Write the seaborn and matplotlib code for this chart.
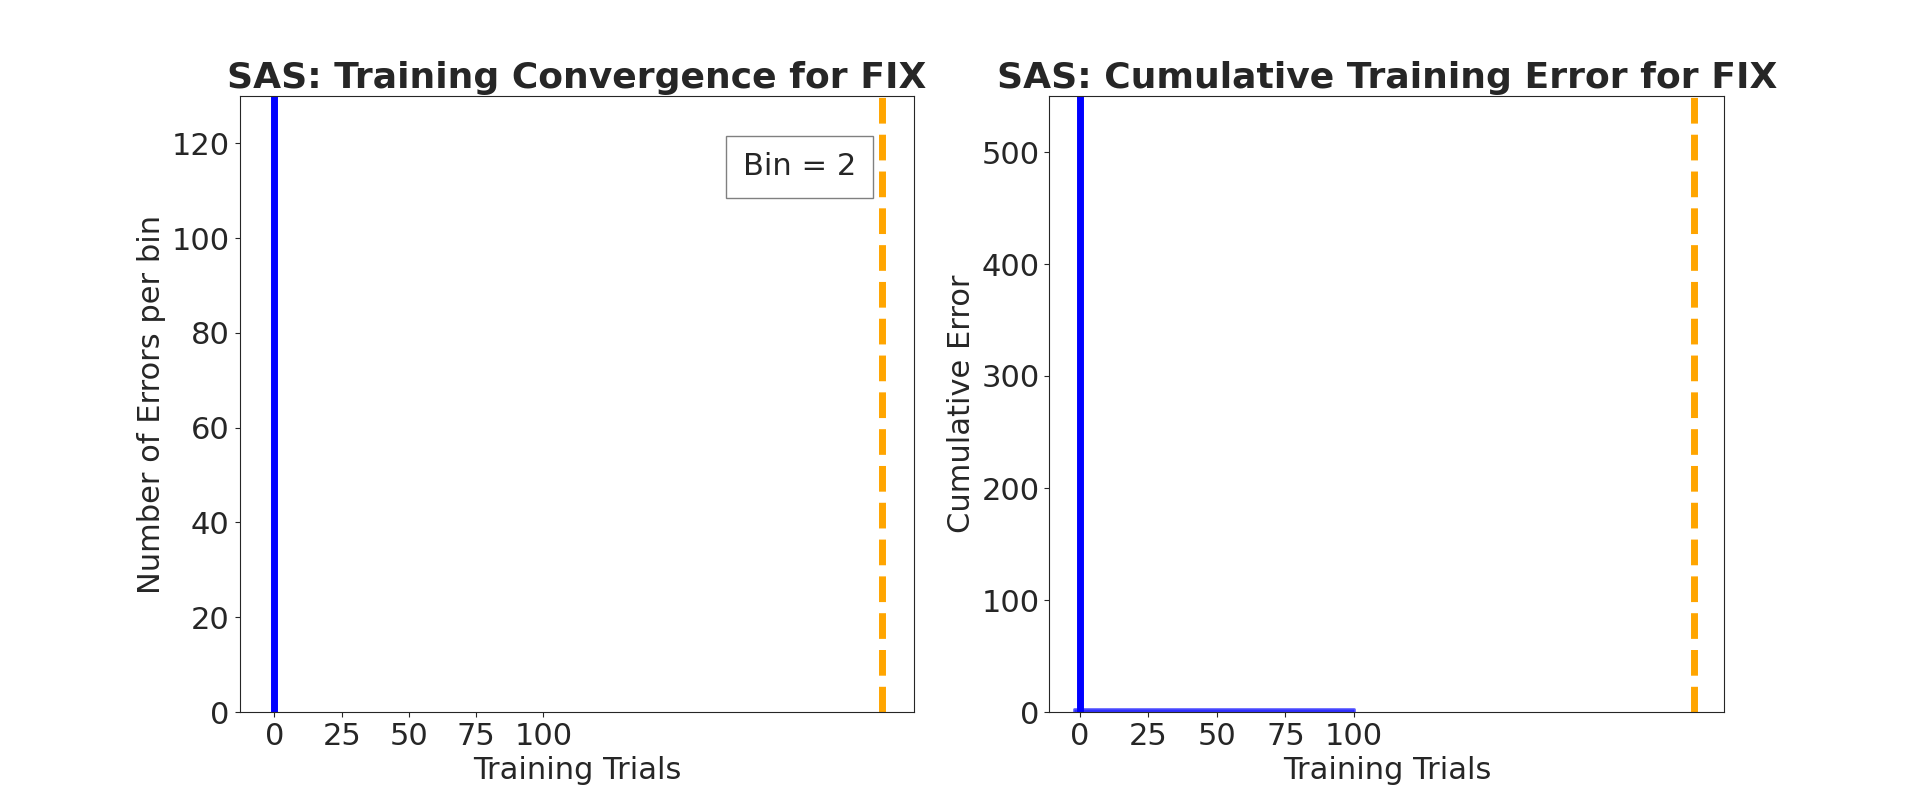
import matplotlib
matplotlib.use("Agg")
import matplotlib.pyplot as plt
import seaborn as sns
import pandas as pd

sns.set_style("ticks")
plt.rcParams['font.family'] = ['DejaVu Sans']

# data
conv_x = [0, 0]
conv_y = [0, 135]
cum_x = [0, 0]
cum_y = [0, 560]
cum_bar_x = [-2, 100]
cum_bar_y = [3, 3]
criterion_trial = [226, 224]
xticks = [0, 25, 50, 75, 100]

fig, axes = plt.subplots(1, 2, figsize=(19.16, 8), dpi=100)
fs = 22

ax = axes[0]
sns.lineplot(x=conv_x, y=conv_y, ax=ax, color='blue', linewidth=5, estimator=None, sort=False)
ax.axvline(criterion_trial[0], color='orange', linestyle='--', linewidth=5)
ax.set_xlim(-13, 238)
ax.set_ylim(0, 130)
ax.set_xticks(xticks)
ax.set_title('SAS: Training Convergence for FIX', fontsize=26, fontweight='bold')
ax.set_xlabel('Training Trials', fontsize=fs)
ax.set_ylabel('Number of Errors per bin', fontsize=fs)
ax.tick_params(labelsize=fs)
ax.text(0.83, 0.885, 'Bin = 2', transform=ax.transAxes, fontsize=fs, ha='center', va='center',
        bbox=dict(facecolor='white', edgecolor='gray', pad=12))

ax = axes[1]
ax.fill_between(cum_bar_x, 0, cum_bar_y, color='blue', alpha=0.6, linewidth=2, edgecolor='blue')
sns.lineplot(x=cum_x, y=cum_y, ax=ax, color='blue', linewidth=5, estimator=None, sort=False)
ax.axvline(criterion_trial[1], color='orange', linestyle='--', linewidth=5)
ax.set_xlim(-11, 235)
ax.set_ylim(0, 550)
ax.set_xticks(xticks)
ax.set_title('SAS: Cumulative Training Error for FIX', fontsize=26, fontweight='bold')
ax.set_xlabel('Training Trials', fontsize=fs)
ax.set_ylabel('Cumulative Error', fontsize=fs)
ax.tick_params(labelsize=fs)

fig.savefig('out.png', dpi=100)
